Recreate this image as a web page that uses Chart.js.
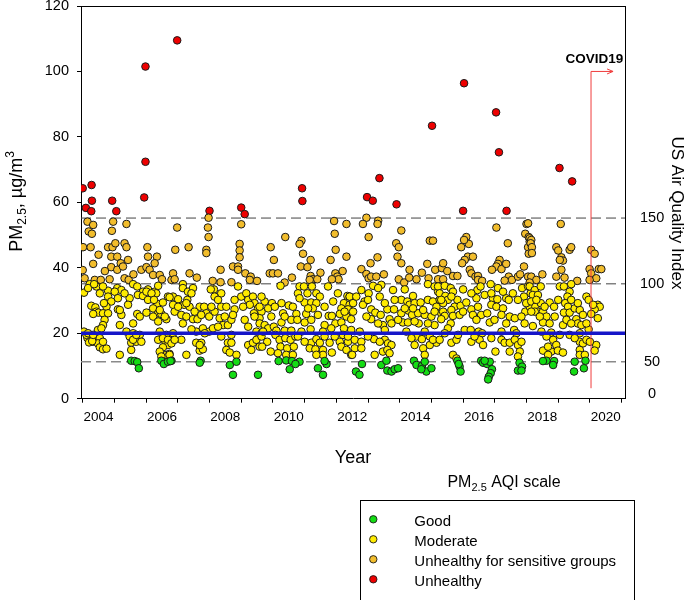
<!DOCTYPE html>
<html>
<head>
<meta charset="utf-8">
<script src="https://cdn.jsdelivr.net/npm/chart.js@4.4.0/dist/chart.umd.min.js"></script>
<style>
html,body{margin:0;padding:0;background:#fff;}
</style>
</head>
<body>
<canvas id="c1" width="685" height="600"></canvas>
<script>
// PM2.5 samples [decimal year, ug/m3], split by AQI category
const unhealthy = [
  [2004.0,64.3],[2004.28,65.3],[2004.1,58.3],[2004.29,60.5],[2004.27,57.3],[2004.93,60.5],[2005.06,57.3],
  [2005.94,61.5],[2005.98,72.4],[2005.98,101.5],[2006.98,109.5],[2008.0,57.4],[2009.0,58.4],[2009.11,56.4],
  [2010.92,64.3],[2010.93,60.4],[2012.97,61.6],[2013.15,60.5],[2013.36,67.4],[2013.9,59.4],[2015.02,83.4],
  [2016.0,57.4],[2016.03,96.4],[2017.04,87.5],[2017.13,75.3],[2017.37,57.4],[2019.04,70.5],[2019.44,66.4]
];
const sensitive = [
  [2004.15,54.1],[2004.33,53.1],[2004.19,51.1],[2004.29,50.4],[2004.96,54.1],[2004.92,51.3],[2005.38,53.4],
  [2004.01,46.3],[2004.25,46.3],[2004.8,46.3],[2004.94,46.3],[2005.03,47.5],[2005.32,47.5],[2005.38,46.3],
  [2006.04,46.3],[2004.9,43.4],[2005.09,43.4],[2006.06,43.4],[2006.34,43.4],[2005.43,42.4],[2005.2,41.4],
  [2004.33,41.2],[2004.9,40.2],[2005.09,39.4],[2005.27,40.4],[2005.85,39.4],[2006.01,40.2],[2006.11,39.4],
  [2006.27,41.4],[2006.22,37.8],[2006.43,37.8],[2004.06,36.8],[2004.38,36.3],[2004.57,36.3],[2004.85,36.5],
  [2005.32,36.8],[2005.45,36.3],[2006.8,36.3],[2004.0,39.3],[2004.5,44.0],[2004.7,39.0],[2005.6,38.0],
  [2006.5,36.5],
  [2007.97,55.3],[2006.98,52.3],[2007.95,52.3],[2007.97,49.4],[2009.0,53.3],[2006.92,45.5],[2007.34,46.3],
  [2007.9,45.5],[2007.9,44.5],[2008.95,47.3],[2008.95,45.3],[2008.95,43.2],[2008.35,39.4],[2008.74,40.4],
  [2008.9,40.4],[2008.9,39.4],[2009.13,38.3],[2009.3,37.3],[2009.27,36.3],[2006.85,38.3],[2006.9,36.5],
  [2007.37,38.3],[2008.69,35.6],[2008.35,35.6],[2007.6,37.0],[2008.1,36.0],[2009.5,36.0],
  [2011.93,54.3],[2012.32,53.4],[2011.95,50.4],[2010.39,49.4],[2010.9,48.3],[2010.84,47.3],[2009.93,46.3],
  [2011.98,45.5],[2010.95,44.3],[2010.03,42.4],[2011.19,42.4],[2011.82,42.4],[2012.32,43.4],[2010.88,40.4],
  [2011.09,40.2],[2009.9,38.3],[2010.0,38.3],[2010.16,38.3],[2011.19,37.5],[2011.26,36.5],[2011.4,36.5],
  [2011.97,38.3],[2012.03,37.3],[2012.07,36.5],[2011.86,36.5],[2010.37,35.5],[2011.16,36.3],[2010.6,37.0],
  [2011.5,38.5],[2012.2,39.0],
  [2012.95,55.3],[2012.84,53.4],[2013.32,54.4],[2013.3,53.4],[2014.05,51.4],[2013.02,49.4],[2013.89,47.5],
  [2013.97,46.3],[2014.95,48.3],[2015.05,48.3],[2013.3,43.2],[2013.93,43.4],[2013.08,41.4],[2012.79,39.6],
  [2014.05,41.4],[2014.31,39.4],[2014.87,41.2],[2015.12,39.4],[2012.95,38.1],[2013.02,36.8],[2013.1,37.3],
  [2013.26,37.3],[2013.97,36.5],[2014.53,36.5],[2014.91,36.8],[2015.33,39.9],[2015.21,36.5],[2014.14,35.5],
  [2013.5,38.0],[2014.3,37.0],[2014.7,38.5],
  [2017.05,52.3],[2018.0,53.4],[2017.96,50.4],[2018.07,49.4],[2018.1,48.0],[2018.05,46.3],[2018.07,44.3],
  [2016.1,49.4],[2016.18,47.3],[2016.03,48.5],[2015.94,46.3],[2017.41,47.5],[2016.15,43.4],[2016.31,43.4],
  [2016.05,42.4],[2015.97,41.4],[2015.37,41.4],[2016.21,39.4],[2016.26,38.3],[2016.39,37.3],[2016.47,37.5],
  [2015.68,37.5],[2015.82,37.5],[2015.37,36.5],[2017.15,42.4],[2017.1,41.2],[2017.05,40.4],[2017.21,39.6],
  [2017.36,41.2],[2016.91,39.4],[2017.44,37.3],[2017.54,36.3],[2017.73,37.3],[2017.92,40.4],[2018.05,37.3],
  [2017.31,36.1],[2016.47,36.3],[2015.5,39.0],[2016.6,36.0],[2017.8,38.0],
  [2019.08,53.4],[2018.05,53.6],[2018.1,49.0],[2018.15,48.5],[2018.13,47.5],[2018.17,46.3],[2018.17,44.5],
  [2018.94,46.3],[2019.0,45.3],[2019.1,43.2],[2019.15,42.2],[2019.05,42.4],[2019.36,45.5],[2019.41,46.3],
  [2020.04,45.5],[2020.15,44.3],[2019.1,39.4],[2018.94,37.3],[2019.99,39.6],[2020.04,38.3],[2020.28,39.6],
  [2020.36,39.6],[2020.2,36.8],[2019.99,36.3],[2018.15,37.3],[2018.31,36.3],[2018.1,35.5],[2018.5,38.0],
  [2019.2,37.0],[2019.6,36.0]
];
const moderate = [
  [2004.04,32.4],[2004.22,35.0],[2004.43,34.3],[2004.54,32.2],[2004.8,33.0],[2005.09,33.8],[2005.22,33.2],
  [2005.48,30.7],[2005.59,35.0],[2005.72,34.3],[2005.9,32.7],[2006.06,33.4],[2006.27,32.7],[2006.38,34.5],
  [2006.69,31.2],[2004.8,31.2],[2004.9,29.7],[2004.75,28.1],[2004.27,28.4],[2004.4,27.9],[2004.67,29.2],
  [2005.74,31.7],[2005.9,31.4],[2006.06,30.2],[2006.32,32.2],[2006.35,29.0],[2006.53,29.4],[2004.43,26.6],
  [2004.5,26.3],[2004.64,26.1],[2004.8,26.1],[2004.33,25.9],[2005.11,27.3],[2005.22,25.6],[2005.72,25.9],
  [2005.8,25.1],[2006.01,26.3],[2006.22,27.6],[2006.38,26.1],[2006.48,25.9],[2006.22,25.1],[2006.64,24.3],
  [2004.69,24.1],[2004.64,22.5],[2005.17,22.5],[2005.59,23.0],[2004.48,21.0],[2004.59,21.5],[2004.04,20.5],
  [2005.38,20.5],[2005.59,20.0],[2005.8,19.5],[2006.43,20.5],[2006.64,19.5],[2004.15,18.5],[2004.33,17.4],
  [2004.54,18.5],[2004.48,16.9],[2005.48,19.0],[2005.53,17.1],[2005.69,17.4],[2005.85,17.4],[2006.38,18.0],
  [2006.61,17.4],[2006.69,16.4],[2006.53,15.7],[2004.54,15.7],[2004.64,15.1],[2004.75,15.3],[2005.53,14.9],
  [2006.43,14.4],[2006.64,13.4],[2005.17,13.4],[2006.74,13.7],[2004.12,19.5],[2004.2,17.2],[2004.3,17.6],
  [2004.17,33.8],[2004.36,35.0],[2004.64,34.3],[2005.01,32.7],[2005.11,30.7],[2005.32,32.2],[2005.43,28.7],
  [2005.17,27.1],[2006.01,32.7],[2006.17,32.2],[2006.25,30.2],[2006.43,27.1],[2006.59,25.1],[2006.38,23.6],
  [2004.17,20.0],[2004.33,19.5],[2004.64,17.4],[2005.59,18.0],[2005.69,19.5],[2006.53,18.5],[2006.69,18.0],
  [2006.48,12.9],
  [2006.85,31.2],[2007.01,30.4],[2007.16,35.0],[2007.16,33.8],[2007.32,32.7],[2007.48,33.8],[2007.43,32.2],
  [2007.3,30.2],[2007.2,28.7],[2007.37,28.1],[2006.85,28.7],[2006.9,26.6],[2007.11,25.6],[2007.27,25.1],
  [2007.16,23.0],[2007.48,24.3],[2007.62,24.3],[2007.69,28.1],[2007.83,28.1],[2007.9,26.1],[2007.99,25.1],
  [2008.16,26.6],[2008.14,33.4],[2008.04,33.4],[2008.37,32.2],[2008.16,31.2],[2008.37,28.1],[2008.32,24.6],
  [2008.43,22.5],[2008.58,22.5],[2008.48,25.1],[2008.69,24.1],[2008.79,27.3],[2008.74,25.6],[2008.9,34.3],
  [2009.0,31.2],[2009.16,32.2],[2009.22,30.2],[2009.37,31.2],[2009.42,29.2],[2009.27,28.7],[2009.53,27.6],
  [2009.4,26.1],[2009.64,26.6],[2009.58,24.6],[2009.22,22.0],[2009.48,20.5],[2009.64,20.0],[2007.79,21.5],
  [2007.99,20.5],[2008.11,21.5],[2008.27,22.0],[2007.58,20.5],[2007.43,21.2],[2006.85,20.0],[2006.8,16.9],
  [2007.11,18.0],[2007.58,17.1],[2007.74,17.1],[2007.69,14.7],[2007.79,15.1],[2007.27,13.4],[2008.58,17.1],
  [2008.69,17.1],[2008.53,14.9],[2008.64,14.1],[2008.85,13.4],[2009.22,16.4],[2009.37,17.1],[2009.48,18.0],
  [2009.58,15.9],[2006.74,13.4],[2006.74,31.0],[2007.01,28.1],[2007.27,29.2],[2007.53,26.6],[2007.74,25.6],
  [2008.06,28.1],[2008.27,30.2],[2008.53,28.1],[2008.79,30.2],[2009.06,28.1],[2009.42,25.1],[2009.11,24.1],
  [2007.85,20.0],[2008.37,19.0],[2008.69,19.5],[2006.9,18.0],[2007.69,16.4],[2009.32,14.9],
  [2010.24,34.5],[2010.84,34.3],[2010.98,34.3],[2011.23,34.3],[2011.74,34.3],[2010.79,32.2],[2011.09,32.2],
  [2011.37,32.2],[2012.05,32.2],[2012.35,31.4],[2012.42,31.2],[2011.48,31.2],[2009.74,29.7],[2009.97,29.2],
  [2010.27,29.2],[2010.5,28.5],[2011.0,29.4],[2011.21,29.4],[2011.37,29.2],[2012.24,29.2],[2012.42,28.7],
  [2009.58,28.1],[2009.85,27.6],[2012.16,27.6],[2012.37,27.3],[2010.32,26.1],[2010.74,25.9],[2011.05,25.9],
  [2011.26,27.6],[2011.42,25.6],[2011.76,25.3],[2011.86,25.3],[2012.11,25.9],[2012.32,25.1],[2009.58,23.0],
  [2009.74,22.5],[2009.95,25.1],[2010.27,23.3],[2010.58,24.1],[2010.77,24.1],[2011.0,23.3],[2011.21,24.1],
  [2011.63,22.5],[2011.97,23.0],[2012.16,23.3],[2012.47,24.3],[2009.85,21.5],[2010.03,22.0],[2010.11,20.8],
  [2010.37,20.8],[2010.58,20.8],[2010.9,20.5],[2011.19,21.2],[2011.58,20.5],[2011.84,21.5],[2012.24,21.5],
  [2009.64,19.0],[2009.82,17.4],[2010.08,19.5],[2010.21,18.0],[2010.39,18.5],[2010.56,18.0],[2010.71,19.0],
  [2011.21,17.1],[2011.37,18.2],[2011.48,17.1],[2011.63,19.0],[2011.79,17.1],[2012.11,17.4],[2012.37,17.4],
  [2009.66,15.9],[2009.93,14.4],[2010.24,15.9],[2010.45,15.4],[2010.66,15.9],[2011.16,15.4],[2011.34,15.1],
  [2011.58,14.9],[2011.86,14.1],[2012.16,15.9],[2012.32,14.9],[2010.42,13.4],[2010.63,13.4],[2011.58,13.4],
  [2012.47,13.4],[2009.64,31.2],[2010.06,28.1],[2010.37,25.1],[2010.63,28.1],[2010.84,30.7],[2011.11,27.6],
  [2011.63,28.1],[2011.9,29.7],[2012.26,26.6],[2009.69,20.5],[2010.79,19.0],[2011.0,17.4],[2011.95,19.0],
  [2012.21,19.5],[2010.16,13.9],[2011.37,13.4],
  [2012.42,31.2],[2012.79,33.2],[2013.16,34.5],[2013.42,34.8],[2013.79,33.2],[2014.16,33.4],[2014.42,31.4],
  [2014.89,35.0],[2015.1,34.3],[2015.21,32.7],[2013.32,33.8],[2013.37,31.2],[2013.02,32.2],[2012.89,29.7],
  [2012.84,28.7],[2012.53,29.2],[2014.05,30.2],[2014.24,29.7],[2014.31,28.7],[2014.47,29.2],[2014.66,29.4],
  [2014.89,30.2],[2015.05,29.7],[2015.26,30.2],[2015.16,28.1],[2012.53,26.6],[2013.1,27.3],[2013.23,26.3],
  [2013.4,25.6],[2013.61,27.3],[2013.82,27.3],[2014.05,26.1],[2014.28,26.9],[2014.39,25.6],[2014.58,26.1],
  [2014.79,25.6],[2015.0,25.1],[2015.31,26.1],[2013.1,24.3],[2013.68,24.3],[2013.74,23.0],[2014.1,23.3],
  [2014.26,23.3],[2014.6,23.0],[2015.1,22.5],[2012.47,21.0],[2012.74,20.5],[2013.47,22.5],[2013.53,21.0],
  [2014.21,20.5],[2014.79,20.5],[2012.37,19.0],[2012.58,18.0],[2012.79,17.4],[2013.19,18.2],[2013.53,18.0],
  [2013.63,16.9],[2013.74,16.4],[2014.53,19.0],[2014.7,18.2],[2014.95,19.0],[2012.58,15.4],[2012.79,15.4],
  [2012.5,13.4],[2013.21,13.4],[2013.47,14.4],[2013.61,14.9],[2013.68,13.9],[2014.47,16.4],[2014.74,15.4],
  [2014.79,13.4],[2014.95,16.4],[2015.16,17.1],[2012.63,31.2],[2013.0,30.2],[2013.53,29.2],[2013.84,30.2],
  [2014.16,27.6],[2014.42,27.6],[2014.74,27.1],[2015.1,26.6],[2012.95,25.1],[2013.32,23.0],[2013.95,24.1],
  [2014.47,23.6],[2014.89,23.0],[2013.0,19.0],[2013.37,17.4],[2014.37,18.5],[2015.05,18.0],
  [2015.21,34.3],[2015.42,34.5],[2015.61,33.8],[2015.26,32.2],[2015.44,31.4],[2015.68,32.7],[2015.52,30.2],
  [2015.37,29.2],[2015.82,30.2],[2016.0,33.4],[2016.45,33.2],[2016.42,30.7],[2016.55,34.3],[2016.87,35.0],
  [2017.1,33.8],[2016.94,30.7],[2017.08,30.4],[2017.36,30.7],[2017.44,30.2],[2017.86,33.8],[2018.05,34.3],
  [2018.13,32.2],[2017.92,31.2],[2015.73,28.1],[2015.92,28.4],[2015.63,27.1],[2015.37,26.6],[2016.1,29.4],
  [2016.26,27.3],[2016.47,28.1],[2016.57,25.6],[2016.89,28.7],[2017.05,28.1],[2017.26,27.6],[2017.21,25.6],
  [2017.47,25.1],[2017.63,24.6],[2017.96,26.6],[2018.1,28.1],[2017.84,25.1],[2015.42,25.3],[2015.68,25.3],
  [2015.89,25.6],[2016.31,25.6],[2016.76,26.1],[2016.84,23.3],[2015.31,24.3],[2015.61,23.0],[2015.52,21.5],
  [2016.05,21.0],[2016.24,21.0],[2016.49,20.5],[2016.6,20.0],[2017.21,20.5],[2017.61,21.0],[2017.68,20.0],
  [2015.26,18.0],[2015.63,17.1],[2015.79,18.0],[2016.26,17.4],[2016.52,18.0],[2016.63,16.4],[2017.21,18.0],
  [2017.31,17.1],[2017.47,17.1],[2017.63,18.0],[2017.73,16.4],[2017.47,14.4],[2017.79,14.4],[2017.02,14.4],
  [2015.68,13.4],[2017.73,12.9],[2015.79,12.3],[2015.31,30.2],[2015.63,31.2],[2016.26,32.2],[2016.68,31.7],
  [2016.89,32.2],[2017.26,32.7],[2017.57,32.2],[2017.73,30.2],[2017.99,29.2],[2016.0,26.6],[2016.42,24.1],
  [2016.99,24.1],[2017.36,23.0],[2017.94,23.0],[2015.42,20.0],[2015.84,19.5],[2016.36,19.0],[2016.89,18.5],
  [2017.84,17.4],
  [2018.1,34.3],[2018.26,33.2],[2018.45,34.3],[2018.2,31.7],[2018.36,31.7],[2018.15,29.7],[2018.28,28.1],
  [2018.45,29.2],[2018.36,26.6],[2018.52,26.6],[2018.63,25.1],[2018.73,29.4],[2018.87,28.1],[2019.05,34.3],
  [2019.18,34.3],[2019.41,35.0],[2019.36,32.7],[2019.29,31.2],[2019.22,29.2],[2019.31,28.1],[2019.18,26.3],
  [2019.36,26.3],[2019.52,27.6],[2019.68,27.1],[2019.89,31.2],[2019.96,30.2],[2020.25,28.7],[2020.31,28.1],
  [2020.15,27.3],[2020.25,24.6],[2019.78,25.6],[2020.04,25.9],[2018.26,26.6],[2018.15,26.6],[2018.52,23.3],
  [2018.73,23.0],[2018.2,22.2],[2019.15,22.5],[2019.26,24.1],[2019.57,24.3],[2019.62,23.0],[2019.73,22.5],
  [2018.47,20.5],[2018.78,20.2],[2019.36,19.5],[2019.68,20.0],[2019.96,21.2],[2018.84,18.0],[2018.94,16.4],
  [2019.68,17.4],[2019.78,16.9],[2019.89,18.0],[2018.52,14.7],[2018.78,14.4],[2018.99,14.7],[2019.15,14.1],
  [2019.68,14.9],[2020.2,16.4],[2020.15,14.7],[2018.68,13.4],[2019.68,13.4],[2019.84,13.4],[2018.31,30.2],
  [2018.57,28.1],[2019.0,30.2],[2019.41,30.2],[2019.62,29.2],[2020.1,28.7],[2018.42,25.1],[2018.89,25.1],
  [2019.41,23.0],[2019.89,23.0],[2018.63,19.0],[2019.05,19.5],[2019.52,18.5],[2020.0,17.4],[2018.68,15.9]
];
const good = [
  [2005.53,11.6],[2005.64,11.5],[2005.72,11.2],[2005.77,9.3],[2006.48,11.6],[2006.56,10.6],[2006.69,11.3],
  [2006.8,11.6],[2006.77,11.5],[2007.72,11.6],[2007.69,11.0],[2008.64,10.3],[2008.85,11.3],[2008.74,7.3],
  [2009.53,7.3],[2010.18,11.5],[2010.42,11.7],[2010.6,11.5],[2010.84,11.3],[2010.71,10.6],[2010.53,9.0],
  [2011.42,9.3],[2011.69,10.6],[2011.58,7.3],[2011.63,11.5],[2012.81,10.6],[2012.62,8.3],[2012.73,7.3],
  [2013.42,10.3],[2013.58,11.6],[2013.61,8.6],[2013.74,8.3],[2013.84,9.0],[2013.95,9.3],[2014.45,11.6],
  [2014.53,10.3],[2014.7,10.0],[2014.79,11.3],[2014.84,8.3],[2015.0,9.3],[2014.68,9.0],[2015.82,11.6],
  [2015.89,9.8],[2015.86,10.6],[2015.92,8.3],[2016.57,11.6],[2016.63,11.0],[2016.76,10.6],[2016.84,11.3],
  [2016.91,9.0],[2016.87,7.8],[2016.81,6.7],[2016.79,5.9],[2016.68,11.6],[2017.78,11.0],[2017.86,9.8],
  [2017.73,8.6],[2017.84,8.6],[2018.63,11.6],[2018.87,11.5],[2018.84,10.3],[2019.52,11.3],[2019.5,8.3],
  [2019.81,9.3],[2019.86,11.6],[2018.52,11.5]
];

// axes and reference lines
const xMin = 2003.946, xMax = 2021.107;
const yearTicks = [2004,2005,2006,2007,2008,2009,2010,2011,2012,2013,2014,2015,2016,2017,2018,2019,2020,2021];
const yearLabels = [2004,2006,2008,2010,2012,2014,2016,2018,2020];
const aqiTicks = [1.4, 11.3, 35.1, 55.2];
const aqiLabels = ['0', '50', '100', '150'];
const guideline = 20;
const covidLine = [[2020.035, 3.2], [2020.035, 100.0], [2020.73, 100.0]];
const covidLabel = {text: 'COVID19', x: 2020.14, y: 102.6};

const FONT = "'Liberation Sans', Arial, Helvetica, sans-serif";
Chart.defaults.font.family = FONT;
Chart.defaults.color = '#000';

const toXY = arr => arr.map(p => ({x: p[0], y: p[1]}));
const hline = v => [{x: xMin, y: v}, {x: xMax, y: v}];

const scatterDs = (label, pts, color) => ({
    type: 'scatter', label: label, data: toXY(pts), inLegend: true,
    backgroundColor: color, borderColor: '#1a1a1a', borderWidth: 1,
    pointRadius: 3.8, pointHoverRadius: 3.8, order: 1
});

const datasets = [
    {type: 'line', data: hline(guideline), borderColor: '#1515c8', borderWidth: 3.5, pointRadius: 0, order: 0},
    {type: 'line', data: toXY(covidLine), borderColor: '#f03c3c', borderWidth: 1, pointRadius: 0, order: 0, tension: 0},
    scatterDs('Good', good, '#14dc14'),
    scatterDs('Moderate', moderate, '#ffeb00'),
    scatterDs('Unhealthy for sensitive groups', sensitive, '#f2bd2c'),
    scatterDs('Unhealthy', unhealthy, '#ee0000'),
    {type: 'line', data: hline(aqiTicks[3]), borderColor: '#444', borderWidth: 1, borderDash: [10, 5], pointRadius: 0, order: 5},
    {type: 'line', data: hline(aqiTicks[2]), borderColor: '#444', borderWidth: 1, borderDash: [10, 5], pointRadius: 0, order: 5},
    {type: 'line', data: hline(aqiTicks[1]), borderColor: '#8a8a8a', borderWidth: 1.6, borderDash: [10, 5], pointRadius: 0, order: 5}
];

function drawRich(ctx, parts, x, y) {
    parts.forEach(p => {
        ctx.font = (p.bold ? 'bold ' : '') + p.s + 'px ' + FONT;
        ctx.fillText(p.t, x, y + (p.dy || 0));
        x += ctx.measureText(p.t).width;
    });
}
function richWidth(ctx, parts) {
    let w = 0;
    parts.forEach(p => { ctx.font = p.s + 'px ' + FONT; w += ctx.measureText(p.t).width; });
    return w;
}

const overlay = {
    id: 'overlay',
    afterDraw(chart) {
        const {ctx, chartArea: a, scales} = chart;
        ctx.save();
        ctx.fillStyle = '#000';
        ctx.strokeStyle = '#000';
        ctx.lineWidth = 1;
        // top frame
        ctx.beginPath();
        ctx.moveTo(a.left, Math.round(a.top) + 0.5);
        ctx.lineTo(a.right, Math.round(a.top) + 0.5);
        ctx.stroke();

        // left title
        const yt = [{t: 'PM', s: 18}, {t: '2.5', s: 12, dy: 4}, {t: ', \u00b5g/m', s: 18}, {t: '3', s: 12, dy: -8}];
        ctx.save();
        ctx.translate(22, 201.5);
        ctx.rotate(-Math.PI / 2);
        ctx.textBaseline = 'alphabetic';
        ctx.textAlign = 'left';
        drawRich(ctx, yt, -richWidth(ctx, yt) / 2, 0);
        ctx.restore();

        // right title
        ctx.save();
        ctx.translate(672, 213);
        ctx.rotate(Math.PI / 2);
        ctx.font = '17px ' + FONT;
        ctx.textAlign = 'center';
        ctx.textBaseline = 'alphabetic';
        ctx.fillText('US Air Quality Index', 0, 0);
        ctx.restore();

        // covid marker
        const end = covidLine[covidLine.length - 1];
        const ex = scales.x.getPixelForValue(end[0]), ey = scales.y.getPixelForValue(end[1]);
        ctx.strokeStyle = '#f03c3c';
        ctx.beginPath();
        ctx.moveTo(ex - 6, ey - 2.5); ctx.lineTo(ex, ey); ctx.lineTo(ex - 6, ey + 2.5);
        ctx.stroke();
        ctx.font = 'bold 13.5px ' + FONT;
        ctx.textAlign = 'center';
        ctx.textBaseline = 'alphabetic';
        ctx.fillText(covidLabel.text, scales.x.getPixelForValue(covidLabel.x), scales.y.getPixelForValue(covidLabel.y));

        // legend title
        const lt = [{t: 'PM', s: 16}, {t: '2.5', s: 11, dy: 4}, {t: ' AQI scale', s: 16}];
        ctx.textAlign = 'left';
        drawRich(ctx, lt, 504 - richWidth(ctx, lt) / 2, 487);

        // legend box
        ctx.strokeStyle = '#000';
        ctx.strokeRect(360.5, 500.5, 274, 110);
        const items = chart.data.datasets.filter(d => d.inLegend);
        ctx.font = '15px ' + FONT;
        items.forEach((d, i) => {
            const cy = 519.3 + i * 20;
            ctx.beginPath();
            ctx.arc(373.3, cy, 3.7, 0, Math.PI * 2);
            ctx.fillStyle = d.backgroundColor;
            ctx.fill();
            ctx.lineWidth = 0.9;
            ctx.strokeStyle = '#1a1a1a';
            ctx.stroke();
            ctx.fillStyle = '#000';
            ctx.textBaseline = 'alphabetic';
            ctx.fillText(d.label, 414.3, cy + 6.5);
        });
        ctx.restore();
    }
};

const chart = new Chart(document.getElementById('c1'), {
    data: {datasets: datasets},
    options: {
        responsive: false,
        animation: false,
        layout: {padding: {top: 6, left: 0, right: 0, bottom: 0}},
        plugins: {legend: {display: false}, tooltip: {enabled: false}},
        scales: {
            x: {
                type: 'linear', position: 'bottom', min: xMin, max: xMax,
                afterBuildTicks: s => { s.ticks = yearTicks.map(v => ({value: v})); },
                ticks: {
                    autoSkip: false, maxRotation: 0, labelOffset: 15.85, padding: 6,
                    font: {size: 13.5}, color: '#000',
                    callback: v => yearLabels.includes(v) ? String(v) : ''
                },
                grid: {display: true, drawOnChartArea: false, drawTicks: true, tickLength: 4, color: '#000'},
                border: {display: true, color: '#000', width: 1},
                title: {display: true, text: 'Year', font: {size: 18}, color: '#000', padding: {top: 0, bottom: 131}},
                afterFit: s => { s.height = 201.3; s.paddingLeft = 0; s.paddingRight = 0; }
            },
            y: {
                position: 'left', min: 0, max: 120,
                ticks: {stepSize: 20, padding: 8, font: {size: 14.5}, color: '#000'},
                grid: {display: true, drawOnChartArea: false, drawTicks: true, tickLength: 4, color: '#000'},
                border: {display: true, color: '#000', width: 1},
                afterFit: s => { s.width = 81; s.paddingTop = 0; s.paddingBottom = 0; }
            },
            y2: {
                position: 'right', min: 0, max: 120,
                afterBuildTicks: s => { s.ticks = aqiTicks.map(v => ({value: v})); },
                ticks: {
                    autoSkip: false, crossAlign: 'center', padding: 7, font: {size: 14.5}, color: '#000',
                    callback: v => aqiLabels[aqiTicks.indexOf(v)]
                },
                grid: {display: false},
                border: {display: true, color: '#000', width: 1},
                afterFit: s => { s.width = 60; s.paddingTop = 0; s.paddingBottom = 0; }
            }
        }
    },
    plugins: [overlay]
});
</script>
</body>
</html>
